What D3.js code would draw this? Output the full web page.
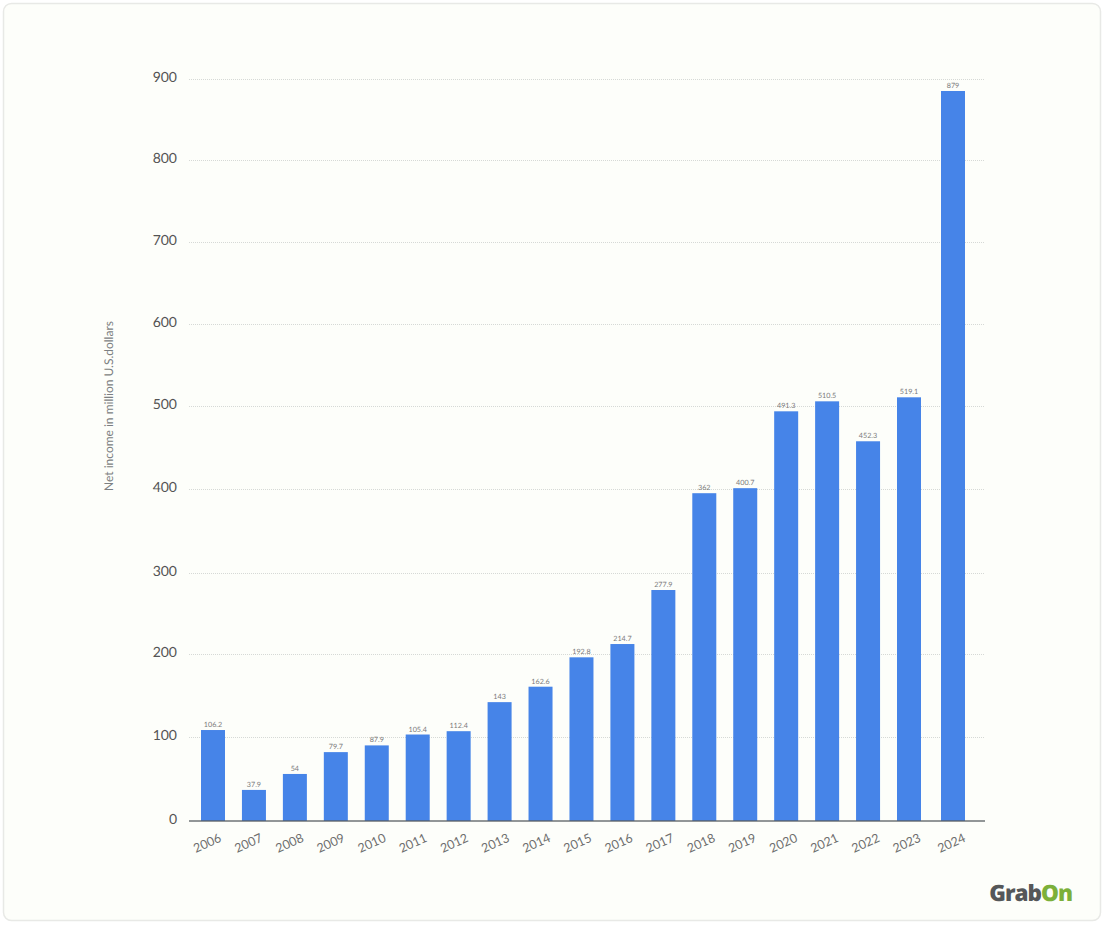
<!DOCTYPE html>
<html>
<head>
<meta charset="utf-8">
<script src="https://cdn.jsdelivr.net/npm/d3@7"></script>
<style>
html, body { margin: 0; padding: 0; background: #fff; }
svg { display: block; font-family: Lato, sans-serif; text-rendering: geometricPrecision; }
</style>
</head>
<body>
<svg id="chart" width="1104" height="931"></svg>
<script>
// Bars are drawn at the height shown in the picture, labels keep the printed text
const years = [2006, 2007, 2008, 2009, 2010, 2011, 2012, 2013, 2014, 2015, 2016, 2017, 2018, 2019, 2020, 2021, 2022, 2023, 2024];
const barValues = [108.4, 37, 56, 82, 90, 103, 107, 142, 160.6, 196, 212.3, 279, 395, 401, 493.6, 505.7, 457.5, 510.6, 885.2];
const barLabels = ["106.2","37.9","54","79.7","87.9","105.4","112.4","143","162.6","192.8","214.7","277.9","362","400.7","491.3","510.5","452.3","519.1","879"];
const yTicks = [0, 100, 200, 300, 400, 500, 600, 700, 800, 900];

const svg = d3.select("#chart");

// Card behind the chart
svg.append("rect")
    .attr("x", 3.5).attr("y", 3.5)
    .attr("width", 1097).attr("height", 917)
    .attr("rx", 8)
    .attr("fill", "#fdfefa")
    .attr("stroke", "#e8e9e6")
    .attr("stroke-width", 1.5);

// The last bar sits a little further out than the regular step, so x has a knee
const x = d3.scaleLinear()
    .domain([2006, 2023, 2024])
    .range([213, 909, 953]);
const barWidth = 24;

// Year labels drift slightly against the bars, they get their own scale
const xLabel = d3.scaleLinear()
    .domain([2006, 2023, 2024])
    .range([208.5, 908, 952.7]);

// Gridlines in the picture are not quite evenly spaced
const y = d3.scaleLinear()
    .domain(yTicks)
    .range([821, 737, 654, 573, 489, 406, 324, 242, 160, 79]);

const axisLeft = 189, axisRight = 985;

// Gridlines
svg.append("g").selectAll("line")
    .data(yTicks.filter(d => d > 0))
    .join("line")
    .attr("x1", axisLeft).attr("x2", axisRight)
    .attr("y1", d => y(d) + 0.5).attr("y2", d => y(d) + 0.5)
    .attr("stroke", "#d6d9d6")
    .attr("stroke-width", 1)
    .attr("stroke-dasharray", "1 1");

// Y axis labels
const yAxis = svg.append("g")
    .attr("transform", `translate(${axisLeft},0)`)
    .call(d3.axisLeft(y).tickValues(yTicks).tickSize(0).tickPadding(12));
yAxis.select(".domain").remove();
yAxis.selectAll("text")
    .attr("font-family", "Lato, sans-serif")
    .attr("font-size", 14)
    .attr("fill", "#545454")
    .attr("dy", "0.2em");

// Bars
svg.append("g").selectAll("rect")
    .data(barValues)
    .join("rect")
    .attr("x", (d, i) => x(years[i]) - barWidth / 2)
    .attr("y", d => y(d))
    .attr("width", barWidth)
    .attr("height", d => y(0) - y(d))
    .attr("fill", "#4684e8");

// Value labels
svg.append("g").selectAll("text")
    .data(barValues)
    .join("text")
    .attr("x", (d, i) => x(years[i]))
    .attr("y", d => y(d) - 3)
    .attr("text-anchor", "middle")
    .attr("font-size", 7.2)
    .attr("fill", "#7a7a7a")
    .text((d, i) => barLabels[i]);

// X axis
const xAxis = svg.append("g")
    .attr("transform", "translate(0,821)")
    .call(d3.axisBottom(xLabel).tickValues(years).tickFormat(d3.format("d")).tickSize(0).tickPadding(0));
xAxis.select(".domain").remove();
xAxis.selectAll("text")
    .attr("font-family", "Lato, sans-serif")
    .attr("font-size", 12.5)
    .attr("fill", "#6e6e6e")
    .attr("text-anchor", "middle")
    .attr("dy", 0)
    .attr("y", 0)
    .attr("transform", "translate(0,26) rotate(-24)");

svg.append("line")
    .attr("x1", axisLeft).attr("x2", axisRight)
    .attr("y1", 821).attr("y2", 821)
    .attr("stroke", "#555a5e")
    .attr("stroke-opacity", 0.85)
    .attr("stroke-width", 1.3);

// Y axis title
svg.append("text")
    .attr("transform", "translate(112.5,406) rotate(-90)")
    .attr("text-anchor", "middle")
    .attr("font-size", 12)
    .attr("fill", "#7c7f81")
    .text("Net income in million U.S.dollars");

// Logo
const logo = svg.append("text")
    .attr("x", 1072).attr("y", 901)
    .attr("text-anchor", "end")
    .attr("font-family", "'Open Sans', sans-serif")
    .attr("font-weight", 800)
    .attr("font-size", 22.5)
    .attr("letter-spacing", -1);
logo.append("tspan").attr("fill", "#555759").text("Grab");
logo.append("tspan").attr("fill", "#7cb03a").text("On");
</script>
</body>
</html>
